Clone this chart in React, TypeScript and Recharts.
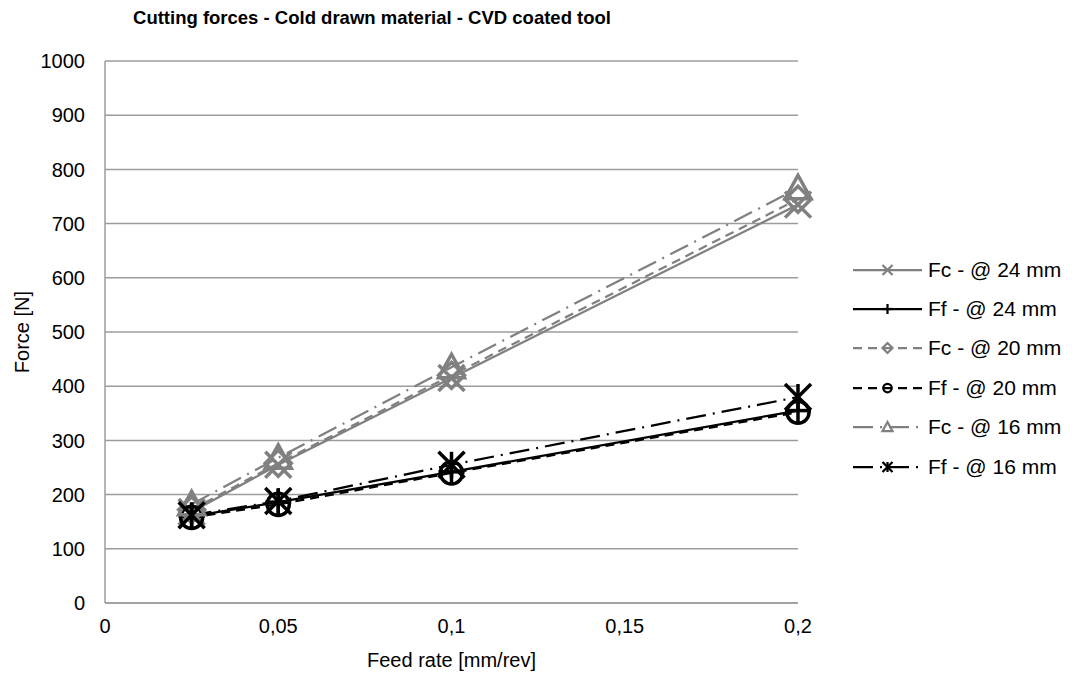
import React from 'react';
import { LineChart, Line, XAxis, YAxis, CartesianGrid, Legend } from 'recharts';

const feedRates = [0.025, 0.05, 0.1, 0.2];
const fc24 = [168, 255, 415, 735];
const ff24 = [160, 186, 242, 355];
const fc20 = [172, 258, 420, 745];
const ff20 = [158, 182, 240, 352];
const fc16 = [182, 268, 435, 765];
const ff16 = [162, 188, 255, 380];
const xTicks = [0, 0.05, 0.1, 0.15, 0.2];
const yTicks = [0, 100, 200, 300, 400, 500, 600, 700, 800, 900, 1000];
const seriesNames = ['Fc - @ 24 mm', 'Ff - @ 24 mm', 'Fc - @ 20 mm', 'Ff - @ 20 mm', 'Fc - @ 16 mm', 'Ff - @ 16 mm'];
const seriesKeys = ['fc24', 'ff24', 'fc20', 'ff20', 'fc16', 'ff16'];
const seriesValues = [fc24, ff24, fc20, ff20, fc16, ff16];
const chartTitle = 'Cutting forces - Cold drawn material - CVD coated tool';
const xTitle = 'Feed rate [mm/rev]';
const yTitle = 'Force [N]';

const GRAY = '#808080';
const BLACK = '#000000';
const FONT = '"Liberation Sans", Arial, sans-serif';

const styles = [
  { color: GRAY, dash: undefined, shape: 'x' },
  { color: BLACK, dash: undefined, shape: 'plus' },
  { color: GRAY, dash: '9 6', shape: 'diamond' },
  { color: BLACK, dash: '9 6', shape: 'circle' },
  { color: GRAY, dash: '20 7 2 7', shape: 'triangle' },
  { color: BLACK, dash: '20 7 2 7', shape: 'star' },
];

const data = feedRates.map((x, i) => {
  const row: any = { x };
  seriesKeys.forEach((k, j) => {
    row[k] = seriesValues[j][i];
  });
  return row;
});

function Marker({ shape, cx, cy, s, color, sw }: any) {
  if (cx == null || cy == null) return null;
  const common = { stroke: color, strokeWidth: sw, fill: 'none' };
  switch (shape) {
    case 'x':
      return (
        <g {...common}>
          <line x1={cx - s} y1={cy - s} x2={cx + s} y2={cy + s} />
          <line x1={cx - s} y1={cy + s} x2={cx + s} y2={cy - s} />
        </g>
      );
    case 'plus':
      return (
        <g {...common}>
          <line x1={cx - s} y1={cy} x2={cx + s} y2={cy} />
          <line x1={cx} y1={cy - s} x2={cx} y2={cy + s} />
        </g>
      );
    case 'diamond':
      return <polygon {...common} points={`${cx},${cy - s} ${cx + s},${cy} ${cx},${cy + s} ${cx - s},${cy}`} />;
    case 'circle':
      return <circle {...common} cx={cx} cy={cy} r={s * 0.85} />;
    case 'triangle':
      return <polygon {...common} points={`${cx},${cy - s} ${cx + s},${cy + s * 0.8} ${cx - s},${cy + s * 0.8}`} />;
    case 'star':
      return (
        <g {...common}>
          <line x1={cx - s} y1={cy - s} x2={cx + s} y2={cy + s} />
          <line x1={cx - s} y1={cy + s} x2={cx + s} y2={cy - s} />
          <line x1={cx} y1={cy - s} x2={cx} y2={cy + s} />
        </g>
      );
    default:
      return null;
  }
}

function LegendContent() {
  return (
    <div style={{ fontFamily: FONT, fontSize: 21, color: '#000' }}>
      {seriesNames.map((name, i) => {
        const st = styles[i];
        return (
          <div key={name} style={{ display: 'flex', alignItems: 'center', height: 39.4 }}>
            <svg width={75} height={20} style={{ display: 'block' }}>
              <line x1={0} y1={10} x2={69} y2={10} stroke={st.color} strokeWidth={2.25} strokeDasharray={st.dash} />
              <Marker shape={st.shape} cx={34.5} cy={10} s={5} color={st.color} sw={2.25} />
            </svg>
            <span style={{ whiteSpace: 'nowrap' }}>{name}</span>
          </div>
        );
      })}
    </div>
  );
}

function YTitle(props: any) {
  const vb = props.viewBox || {};
  const cx = vb.x - 23;
  const cy = vb.y + vb.height / 2;
  return (
    <text
      x={cx}
      y={cy}
      transform={`rotate(-90 ${cx} ${cy})`}
      textAnchor="middle"
      dominantBaseline="central"
      fill="#000"
      fontSize={20}
      fontFamily={FONT}
    >
      {yTitle}
    </text>
  );
}

export default function App() {
  return (
    <div style={{ position: 'relative', width: 1072, height: 681, background: '#fff' }}>
      <style>{'body{margin:0}'}</style>
      <div
        style={{
          position: 'absolute',
          left: 0,
          top: 7,
          width: 744,
          textAlign: 'center',
          fontFamily: FONT,
          fontWeight: 'bold',
          fontSize: 18.5,
          lineHeight: '22px',
          color: '#000',
        }}
      >
        {chartTitle}
      </div>
      <LineChart width={1072} height={681} data={data} margin={{ top: 61, right: 274, bottom: 48, left: 45 }}>
        <CartesianGrid vertical={false} stroke="#9c9c9c" strokeWidth={1.5} />
        <XAxis
          type="number"
          dataKey="x"
          domain={[0, 0.2]}
          ticks={xTicks}
          tickFormatter={(v: number) => String(v).replace('.', ',')}
          axisLine={{ stroke: '#9c9c9c', strokeWidth: 1.5 }}
          tickLine={false}
          tick={{ fill: '#000', fontSize: 20, fontFamily: FONT }}
          tickMargin={10}
          height={30}
          label={{ value: xTitle, position: 'bottom', offset: 20, fill: '#000', fontSize: 20, fontFamily: FONT }}
        />
        <YAxis
          type="number"
          domain={[0, 1000]}
          ticks={yTicks}
          axisLine={{ stroke: '#9c9c9c', strokeWidth: 1.5 }}
          tickLine={false}
          tick={{ fill: '#000', fontSize: 20, fontFamily: FONT }}
          tickMargin={14}
          width={60}
          label={<YTitle />}
        />
        <Legend
          layout="vertical"
          align="center"
          verticalAlign="middle"
          wrapperStyle={{ left: 853, top: 250, width: 219 }}
          content={() => <LegendContent />}
        />
        {seriesKeys.map((k, i) => {
          const st = styles[i];
          return (
            <Line
              key={k}
              type="linear"
              dataKey={k}
              name={seriesNames[i]}
              stroke={st.color}
              strokeWidth={2.25}
              strokeDasharray={st.dash}
              isAnimationActive={false}
              dot={(p: any) => <Marker key={`${k}-${p.index}`} shape={st.shape} cx={p.cx} cy={p.cy} s={13} color={st.color} sw={3.5} />}
              activeDot={false}
            />
          );
        })}
      </LineChart>
    </div>
  );
}
